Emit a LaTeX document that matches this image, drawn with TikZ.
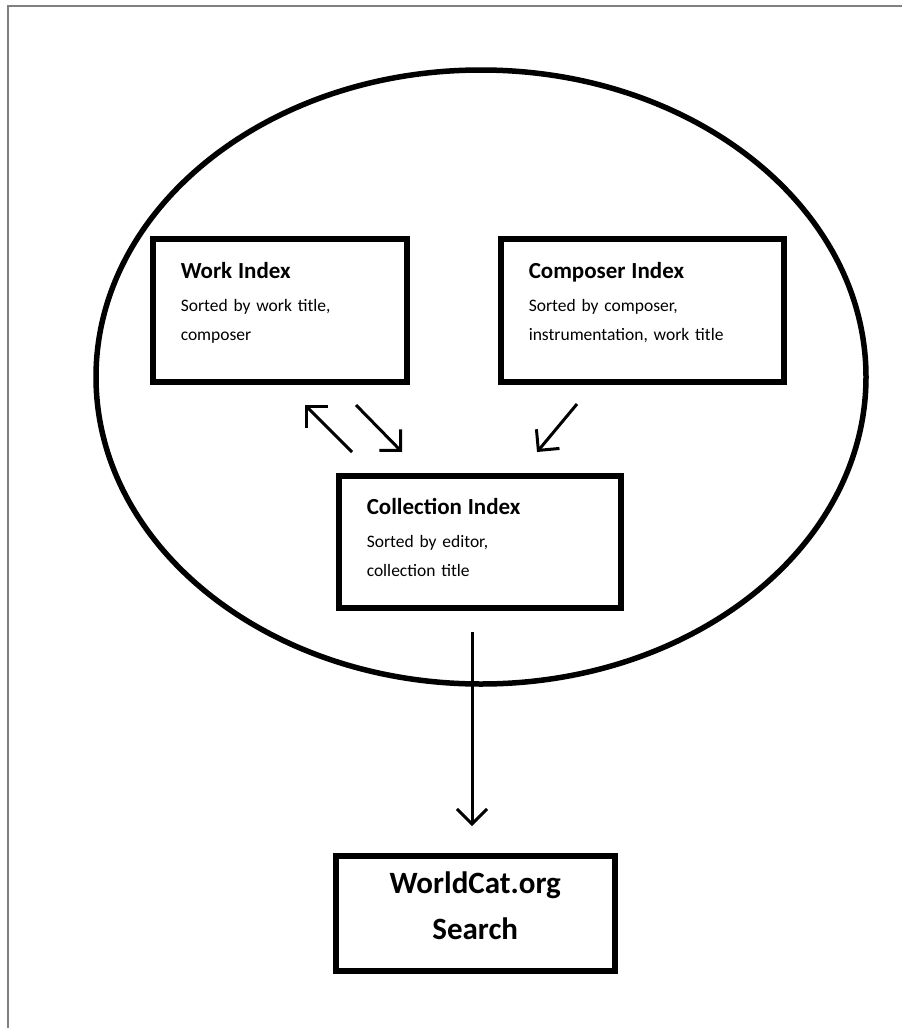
\documentclass[tikz,border=0pt]{standalone}
\usepackage{fontspec}
\setmainfont{Carlito}
\usetikzlibrary{arrows.meta,shapes.geometric}
\newcommand{\idxtitle}[1]{{\fontsize{23}{26}\selectfont\bfseries #1}\\[4pt]}
\begin{document}
\begin{tikzpicture}[x=1pt,y=-1pt,%
% common options for the index boxes:
idx/.style = {draw, line width=5.5pt, align=left, anchor=north west,
            inner xsep=28pt, font=\fontsize{17.5}{29}\selectfont},
% common options for the arrows:
link/.style = {line width=3pt, -{Straight Barb[length=15pt,width=30pt,line width=3pt]}}]
\useasboundingbox (0,0) rectangle (902,1028);
\draw[gray, line width=2pt] (8,1028) -- (8,6) -- (902,6);
\node[ellipse,draw,line width=5.5pt,minimum width=770pt,minimum height=614pt] (pool) at (481,377) {};
\node[idx,text width=198pt,minimum height=143pt,text depth=80pt] (work) at (150,236)
  {\idxtitle{Work Index}Sorted by work title,\\composer};
\node[idx,text width=227pt,minimum height=143pt,text depth=80pt] (comp) at (498,236)
  {\idxtitle{Composer Index}Sorted by composer,\\instrumentation, work title};
\node[idx,text width=226pt,minimum height=132pt,text depth=70pt] (coll) at (336,473)
  {\idxtitle{Collection Index}Sorted by editor,\\collection title};
\node[draw,line width=5.5pt,align=center,anchor=north west,minimum width=279pt,minimum height=115pt,
  text depth=16pt,font=\fontsize{31}{46}\selectfont\bfseries] (wcat) at (333,853) {WorldCat.org\\Search};
% free ends of the arrows
\coordinate (a1) at (352,452); \coordinate (a2) at (305,405);
\coordinate (b1) at (356,405); \coordinate (b2) at (402,452);
\coordinate (c1) at (577,404); \coordinate (c2) at (537,452);
\coordinate (d1) at (472,632); \coordinate (d2) at (472,826);
\draw[link] (a1) to (a2);
\draw[link] (b1) to (b2);
\draw[link] (c1) to (c2);
\draw[link] (d1) to (d2);
\end{tikzpicture}
\end{document}
